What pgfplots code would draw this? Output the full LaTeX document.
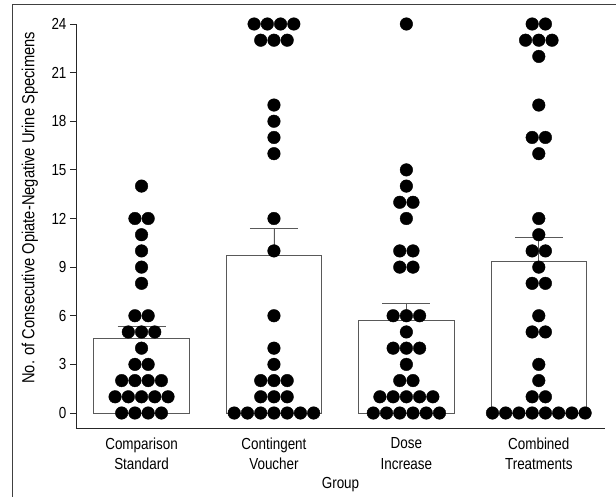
\documentclass[border=0pt]{standalone}
\usepackage{fontspec}
\setmainfont{Liberation Sans}[FakeStretch=0.84]
\usepackage{pgfplots}
\usepackage{pgfplotstable}
\pgfplotsset{compat=1.18}

\pgfplotstableread{
x y
0 14
-0.05 12
0.05 12
0 11
0 10
0 9
0 8
-0.05 6
0.05 6
-0.1 5
0 5
0.1 5
0 4
-0.05 3
0.05 3
-0.15 2
-0.05 2
0.05 2
0.15 2
-0.2 1
-0.1 1
0 1
0.1 1
0.2 1
-0.15 0
-0.05 0
0.05 0
0.15 0
}\comparison

\pgfplotstableread{
x y
0.85 24
0.95 24
1.05 24
1.15 24
0.9 23
1.0 23
1.1 23
1 19
1 18
1 17
1 16
1 12
1 10
1 6
1 4
1 3
0.9 2
1.0 2
1.1 2
0.9 1
1.0 1
1.1 1
0.7 0
0.8 0
0.9 0
1.0 0
1.1 0
1.2 0
1.3 0
}\contingent

\pgfplotstableread{
x y
2 24
2 15
2 14
1.95 13
2.05 13
2 12
1.95 10
2.05 10
1.95 9
2.05 9
1.9 6
2.0 6
2.1 6
2 5
1.9 4
2.0 4
2.1 4
2 3
1.95 2
2.05 2
1.8 1
1.9 1
2.0 1
2.1 1
2.2 1
1.75 0
1.85 0
1.95 0
2.05 0
2.15 0
2.25 0
}\dose

\pgfplotstableread{
x y
2.95 24
3.05 24
2.9 23
3.0 23
3.1 23
3 22
3 19
2.95 17
3.05 17
3 16
3 12
3 11
2.95 10
3.05 10
3 9
2.95 8
3.05 8
3 6
2.95 5
3.05 5
3 3
3 2
2.95 1
3.05 1
2.65 0
2.75 0
2.85 0
2.95 0
3.05 0
3.15 0
3.25 0
3.35 0
}\combined

\begin{document}
\begin{tikzpicture}[x=1pt,y=1pt]
\useasboundingbox (0,0) rectangle (616,496);
\draw[color=black!75, line width=1pt] (12,-5) -- (12,491) -- (621,491);
\begin{axis}[
  at={(76pt,68pt)}, anchor=south west, scale only axis,
  width=529pt, height=404pt,
  xmin=-0.495, xmax=3.5, ymin=-0.925, ymax=24,
  axis x line*=bottom, axis y line*=left,
  axis line style={black!85, line width=0.9pt, -},
  ytick={0,3,...,24},
  tick align=outside,
  major tick length=6pt,
  ytick style={black!85, line width=0.9pt},
  xtick={0,1,2,3},
  xticklabels={{Comparison\\Standard},{Contingent\\Voucher},{Dose\\Increase},{Combined\\Treatments}},
  xtick style={draw=none},
  xticklabel style={align=center, font=\fontsize{16}{20.5}\selectfont},
  yticklabel style={font=\fontsize{16}{18}\selectfont},
  /pgf/number format/assume math mode=true,
  ylabel={No. of Consecutive Opiate-Negative Urine Specimens},
  ylabel style={at={(axis description cs:-0.087,0.545)}, anchor=center, font=\fontsize{17.5}{19}\selectfont},
  xlabel={Group},
  xlabel style={at={(axis description cs:0.5,-0.14)}, anchor=center, font=\fontsize{16}{18}\selectfont},
  clip=false,
]
\addplot[ybar, bar width=0.72, fill=white, draw=black!65, line width=0.9pt,
  error bars/.cd, y dir=plus, y explicit,
  error bar style={black!65, line width=0.9pt},
  error mark options={rotate=90, mark size=24pt, black!65, line width=0.9pt}]
  coordinates {(0,4.63) +- (0,0.74) (1,9.75) +- (0,1.65) (2,5.68) +- (0,1.11) (3,9.38) +- (0,1.48)};
\addplot[only marks, mark=*, mark size=6.3pt, black] table[x=x,y=y] {\comparison};
\addplot[only marks, mark=*, mark size=6.3pt, black] table[x=x,y=y] {\contingent};
\addplot[only marks, mark=*, mark size=6.3pt, black] table[x=x,y=y] {\dose};
\addplot[only marks, mark=*, mark size=6.3pt, black] table[x=x,y=y] {\combined};
\end{axis}
\end{tikzpicture}
\end{document}
